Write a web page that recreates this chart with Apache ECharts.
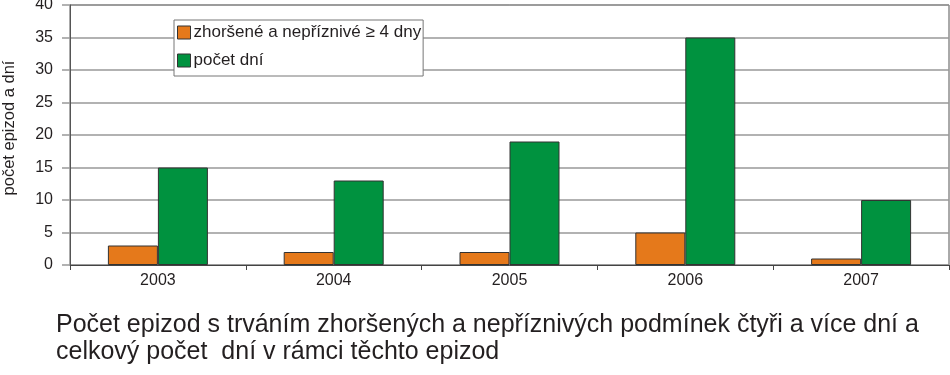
<!DOCTYPE html>
<html><head><meta charset="utf-8">
<script src="https://cdn.jsdelivr.net/npm/echarts@6/dist/echarts.min.js"></script>
<style>html,body{margin:0;padding:0;background:#fff}#c{width:950px;height:375px}</style>
</head><body><div id="c"></div>
<script>
const categories = ['2003','2004','2005','2006','2007'];
const episodes = [3, 2, 2, 5, 1];
const days = [15, 13, 19, 35, 10];
const seriesNames = ['zhoršené a nepříznivé ≥ 4 dny', 'počet dní'];
const yAxisName = 'počet epizod a dní';
const titleText = 'Počet epizod s trváním zhoršených a nepříznivých podmínek čtyři a více dní a\ncelkový počet  dní v rámci těchto epizod';

const font = 'Liberation Sans, Arial, sans-serif';
const ink = '#231f20';
const chart = echarts.init(document.getElementById('c'), null, {renderer:'canvas'});
chart.setOption({
  animation: false,
  textStyle: {fontFamily: font},
  title: {
    text: titleText, left: 56, top: 312, padding: 0,
    textStyle: {fontFamily: font, fontSize: 25, fontWeight: 'normal', color: ink, lineHeight: 27}
  },
  graphic: [{
    type: 'text', x: 9, y: 128, rotation: Math.PI / 2,
    style: {text: yAxisName, font: '16.5px ' + font, fill: ink, align: 'center', verticalAlign: 'middle'}
  }],
  legend: {
    orient: 'vertical', left: 174, top: 20,
    backgroundColor: '#fff', borderColor: '#777', borderWidth: 1,
    padding: [4, 2, 7, 3], itemGap: 11, itemWidth: 13, itemHeight: 13,
    icon: 'rect',
    textStyle: {fontFamily: font, fontSize: 17, color: ink, lineHeight: 13, padding: [0,0,0,-2]},
    itemStyle: {borderColor: '#333', borderWidth: 1},
    data: seriesNames
  },
  grid: {left: 70, right: 1, top: 5, bottom: 110, outerBoundsMode: 'none',
         show: true, borderColor: '#555', borderWidth: 1},
  xAxis: {
    type: 'category', data: categories,
    axisLine: {lineStyle: {color: '#444', width: 1}},
    axisTick: {show: true, length: 5, lineStyle: {color: '#444'}},
    axisLabel: {fontFamily: font, fontSize: 16, color: ink, margin: 8}
  },
  yAxis: {
    type: 'value', min: 0, max: 40, interval: 5,
    axisLine: {show: true, lineStyle: {color: '#555', width: 1}},
    axisTick: {show: true, length: 8, lineStyle: {color: '#999', width: 1.5}},
    axisLabel: {fontFamily: font, fontSize: 16, color: ink, margin: 17},
    splitLine: {lineStyle: {color: '#999', width: 1.5}}
  },
  series: [
    {name: seriesNames[0], type: 'bar', data: episodes, barWidth: 50, barGap: '0%',
     itemStyle: {color: '#e5791b', borderColor: '#333', borderWidth: 1}},
    {name: seriesNames[1], type: 'bar', data: days, barWidth: 50,
     itemStyle: {color: '#00923f', borderColor: '#333', borderWidth: 1}}
  ]
});
</script></body></html>
